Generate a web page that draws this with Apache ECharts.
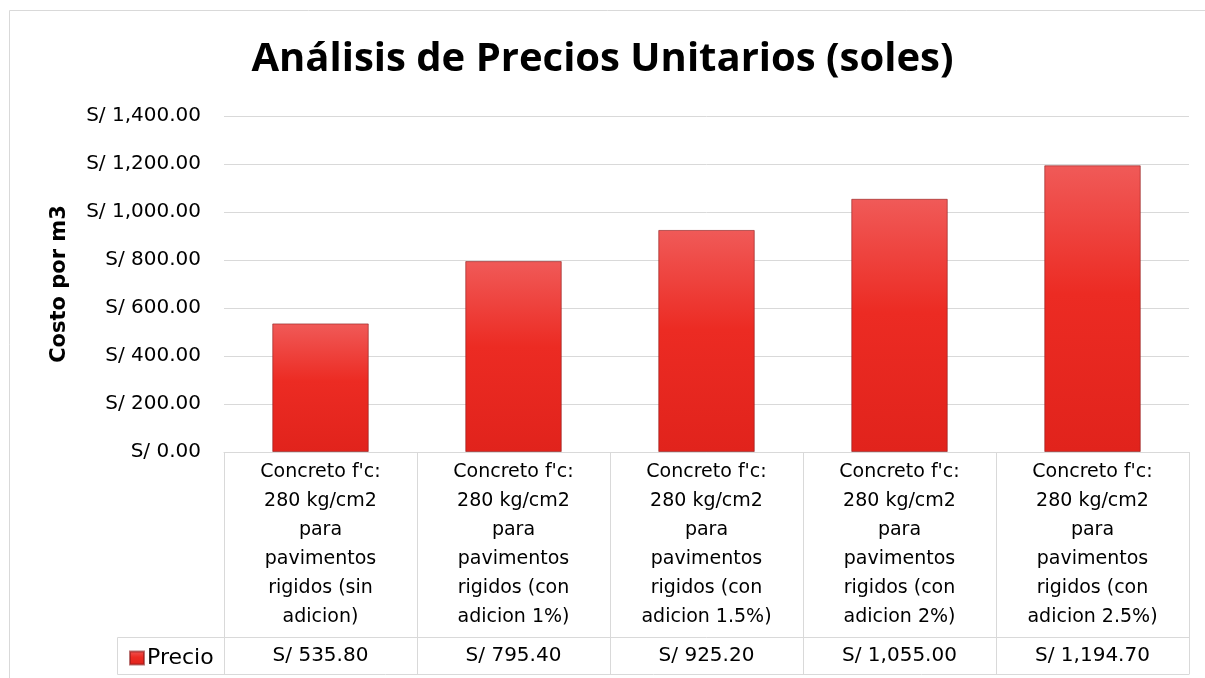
<!DOCTYPE html>
<html>
<head>
<meta charset="utf-8">
<title>Análisis de Precios Unitarios</title>
<script src="https://cdn.jsdelivr.net/npm/echarts@6/dist/echarts.min.js"></script>
<style>
    html, body { margin: 0; padding: 0; background: #fff; }
    #chart { width: 1205px; height: 678px; }
</style>
</head>
<body>
<div id="chart"></div>
<script>
// data
const categories = [
    "Concreto f'c:\n280 kg/cm2\npara\npavimentos\nrigidos (sin\nadicion)",
    "Concreto f'c:\n280 kg/cm2\npara\npavimentos\nrigidos (con\nadicion 1%)",
    "Concreto f'c:\n280 kg/cm2\npara\npavimentos\nrigidos (con\nadicion 1.5%)",
    "Concreto f'c:\n280 kg/cm2\npara\npavimentos\nrigidos (con\nadicion 2%)",
    "Concreto f'c:\n280 kg/cm2\npara\npavimentos\nrigidos (con\nadicion 2.5%)"
];
const precios = [535.8, 795.4, 925.2, 1055.0, 1194.7];
const seriesName = "Precio";
const yMin = 0, yMax = 1400, yStep = 200;

const TITLE_FONT = "'Open Sans', 'DejaVu Sans', sans-serif";
const FONT = "'DejaVu Sans', 'Open Sans', sans-serif";
const GRID = "#d9d9d9";

const soles = (v) => "S/ " + Number(v).toLocaleString("en-US", { minimumFractionDigits: 2, maximumFractionDigits: 2 });

const barColor = new echarts.graphic.LinearGradient(0, 0, 0, 1, [
    { offset: 0, color: "#f05a58" },
    { offset: 0.45, color: "#ec2b23" },
    { offset: 1, color: "#e1231c" },
]);

const chart = echarts.init(document.getElementById("chart"));
chart.setOption({
    animation: false,
    textStyle: { fontFamily: FONT },
    title: {
        text: "Análisis de Precios Unitarios (soles)",
        left: "center",
        top: 35,
        textStyle: { fontSize: 40, fontWeight: "bold", color: "#000", fontFamily: TITLE_FONT },
    },
    legend: {
        data: [seriesName],
        left: 124,
        top: 642,
        icon: "rect",
        itemWidth: 14,
        itemHeight: 13,
        itemGap: 4,
        textStyle: { fontSize: 22, color: "#000", fontFamily: FONT, padding: [0, 0, 0, -2] },
    },
    grid: { left: 224, right: 16, top: 116, bottom: 226 },
    xAxis: [
        {
            type: "category",
            data: categories,
            position: "bottom",
            axisLine: { show: true, lineStyle: { color: GRID, width: 1 } },
            axisTick: { show: true, length: 222, lineStyle: { color: GRID, width: 1 } },
            axisLabel: {
                interval: 0,
                margin: 6,
                fontSize: 19,
                lineHeight: 29,
                color: "#000",
                align: "center",
                verticalAlign: "top",
            },
        },
        {
            type: "category",
            data: precios.map(soles),
            position: "bottom",
            offset: 185,
            axisLine: { show: true, lineStyle: { color: GRID, width: 1 } },
            axisTick: { show: false },
            axisLabel: {
                interval: 0,
                margin: 8,
                fontSize: 20,
                lineHeight: 22,
                color: "#000",
                verticalAlign: "top",
            },
        },
    ],
    yAxis: {
        type: "value",
        min: yMin,
        max: yMax,
        interval: yStep,
        name: "Costo por m3",
        nameLocation: "middle",
        nameRotate: 90,
        nameGap: 154,
        nameTextStyle: { fontSize: 21, fontWeight: "bold", color: "#000", fontFamily: FONT },
        axisLine: { show: false },
        axisTick: { show: false },
        axisLabel: { formatter: soles, fontSize: 20, color: "#000", margin: 23 },
        splitLine: { lineStyle: { color: GRID, width: 1 } },
    },
    series: [
        {
            name: seriesName,
            type: "bar",
            data: precios,
            barWidth: "50%",
            itemStyle: { color: barColor, borderColor: "rgba(140, 25, 25, 0.6)", borderWidth: 1 },
        },
    ],
    graphic: [
        // outer chart frame
        { type: "rect", shape: { x: 9.5, y: 10.5, width: 1400, height: 900 }, style: { fill: "none", stroke: GRID, lineWidth: 1 }, silent: true },
        // legend cell of the data table
        { type: "line", shape: { x1: 117.5, y1: 637.5, x2: 224, y2: 637.5 }, style: { stroke: GRID, lineWidth: 1 }, silent: true },
        { type: "line", shape: { x1: 117.5, y1: 637.5, x2: 117.5, y2: 674.5 }, style: { stroke: GRID, lineWidth: 1 }, silent: true },
        { type: "line", shape: { x1: 117.5, y1: 674.5, x2: 1189.5, y2: 674.5 }, style: { stroke: GRID, lineWidth: 1 }, silent: true },
    ],
});
</script>
</body>
</html>
